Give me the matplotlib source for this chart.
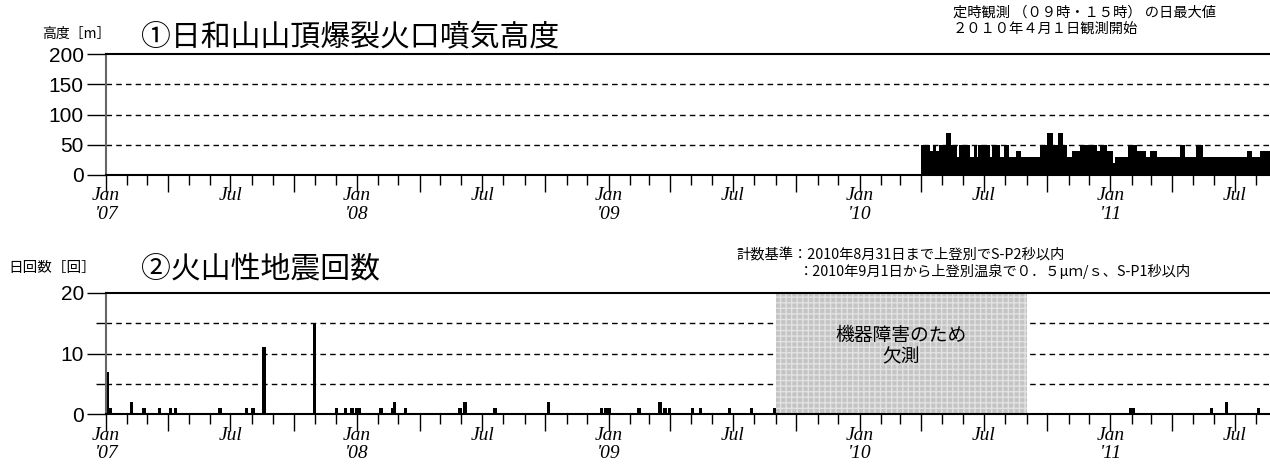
import datetime as dt
import matplotlib
matplotlib.use("Agg")
import matplotlib.pyplot as plt
import matplotlib.dates as mdates
from matplotlib.ticker import FuncFormatter, MultipleLocator

# 噴気高度: 2010/4/1 から、区間の開始日と日最大値 [m]
plume_start = ["2010-04-01", "2010-04-13", "2010-04-18", "2010-04-22", "2010-04-26",
               "2010-05-07", "2010-05-14", "2010-05-23", "2010-05-25", "2010-06-11",
               "2010-06-16", "2010-06-21", "2010-06-23", "2010-07-10", "2010-07-13",
               "2010-07-25", "2010-07-30", "2010-08-06", "2010-08-17", "2010-08-24",
               "2010-09-20", "2010-09-30", "2010-10-09", "2010-10-16", "2010-10-24",
               "2010-10-30", "2010-11-06", "2010-11-18", "2010-12-12", "2010-12-17",
               "2010-12-27", "2011-01-05", "2011-01-07", "2011-01-27", "2011-02-08",
               "2011-02-22", "2011-02-27", "2011-03-09", "2011-04-12", "2011-04-19",
               "2011-05-06", "2011-05-15", "2011-07-18", "2011-07-26", "2011-08-06"]
plume_value = [50, 40, 50, 40, 50,
               70, 50, 30, 50, 30,
               50, 30, 50, 30, 50,
               30, 50, 30, 40, 30,
               50, 70, 50, 70, 50,
               30, 40, 50, 40, 50,
               40, 20, 30, 50, 40,
               30, 40, 30, 50, 30,
               50, 30, 40, 30, 40]
plume_end = "2011-08-21"

# 火山性地震 日回数
eq_dates = ["2007-01-03", "2007-01-07", "2007-02-07", "2007-02-25", "2007-03-20",
            "2007-04-05", "2007-04-12", "2007-06-16", "2007-07-24", "2007-08-03",
            "2007-08-19", "2007-10-31", "2007-12-02", "2007-12-15", "2007-12-25",
            "2008-01-01", "2008-01-05", "2008-02-05", "2008-02-22", "2008-02-25",
            "2008-03-12", "2008-05-30", "2008-06-06", "2008-07-20", "2008-10-06",
            "2008-12-22", "2008-12-28", "2009-01-02", "2009-02-14", "2009-03-17",
            "2009-03-24", "2009-03-31", "2009-05-03", "2009-05-15", "2009-06-26",
            "2009-07-28", "2009-08-30", "2011-01-30", "2011-02-03", "2011-05-28",
            "2011-06-19", "2011-08-04"]
eq_counts = [7, 1, 2, 1, 1,
             1, 1, 1, 1, 1,
             11, 15, 1, 1, 1,
             1, 1, 1, 1, 2,
             1, 1, 2, 1, 2,
             1, 1, 1, 1, 2,
             1, 1, 1, 1, 1,
             1, 1, 1, 1, 1,
             2, 1]

missing = ("2009-09-01", "2010-09-01")
xmin, xmax = "2007-01-01", "2011-08-21"

jp = ["Noto Sans CJK JP", "DejaVu Sans"]


def d(s):
    return dt.datetime.strptime(s, "%Y-%m-%d")


def xfmt(x, pos):
    t = mdates.num2date(x)
    if t.month == 1:
        return "Jan\n'%02d" % (t.year % 100)
    if t.month == 7:
        return "Jul"
    return ""


def style(ax, ymax, step, minor=None):
    ax.set_xlim(d(xmin), d(xmax))
    ax.set_ylim(0, ymax)
    ax.spines["right"].set_visible(False)
    ax.spines["top"].set_linewidth(1.5)
    ax.spines["bottom"].set_linewidth(1.5)
    ax.spines["left"].set_color("#666666")
    ax.spines["left"].set_linewidth(1.5)
    ax.xaxis.set_major_locator(mdates.MonthLocator(bymonth=(1, 4, 7, 10)))
    ax.xaxis.set_minor_locator(mdates.MonthLocator())
    ax.xaxis.set_major_formatter(FuncFormatter(xfmt))
    ax.yaxis.set_major_locator(MultipleLocator(step))
    if minor:
        ax.yaxis.set_minor_locator(MultipleLocator(minor))
    ax.tick_params(axis="x", which="major", length=12, width=1, pad=-3)
    ax.tick_params(axis="x", which="minor", length=7, width=1)
    ax.tick_params(axis="y", which="major", length=14, width=1, pad=2)
    ax.tick_params(axis="y", which="minor", length=7, width=1)
    for lab in ax.get_xticklabels():
        lab.set_family("Liberation Serif")
        lab.set_style("italic")
        lab.set_fontsize(14)
        lab.set_linespacing(1.15)
    for lab in ax.get_yticklabels():
        lab.set_family("Liberation Sans")
        lab.set_fontsize(15)
    grid = [v for v in range(0, ymax + 1, minor or step)][1:-1]
    for v in grid:
        ax.axhline(v, color="black", lw=1, ls=(0, (4, 3)), zorder=0)


fig = plt.figure(figsize=(12.7, 4.68), dpi=100)
ax1 = fig.add_axes([106 / 1270, 1 - 175 / 468, 1 - 106 / 1270, 121 / 468])
ax2 = fig.add_axes([106 / 1270, 1 - 414 / 468, 1 - 106 / 1270, 121 / 468])

# ① 噴気高度
edges = mdates.date2num([d(s) for s in plume_start] + [d(plume_end)])
ax1.stairs(plume_value, edges, fill=True, color="black", zorder=2)
style(ax1, 200, 50)

# ② 地震回数
ax2.bar([d(s) for s in eq_dates], eq_counts, width=5, color="black", zorder=2)
ax2.axvspan(d(missing[0]), d(missing[1]), facecolor="#c4c4c4", edgecolor="#e2e2e2",
            hatch="+++", lw=0, zorder=1)
xc = d(missing[0]) + (d(missing[1]) - d(missing[0])) / 2
ax2.text(xc, 11.2, "機器障害のため\n欠測", ha="center", va="center", fontsize=13.5,
         family=jp, linespacing=1.0, zorder=3)
style(ax2, 20, 10, 5)


def ftext(x, y, s, **kw):
    fig.text(x / 1270, 1 - y / 468, s, family=jp, va="center", **kw)


ftext(42, 34, "高度［m］", fontsize=10)
ftext(141, 37, "①日和山山頂爆裂火口噴気高度", fontsize=21.5)
ftext(953, 13, "定時観測 （０９時・１５時） の日最大値", fontsize=10.3)
ftext(953, 29, "２０１０年４月１日観測開始", fontsize=10.3)

ftext(8, 268, "日回数［回］", fontsize=10.5)
ftext(141, 270, "②火山性地震回数", fontsize=21.5)
ftext(736, 255, "計数基準：2010年8月31日まで上登別でS-P2秒以内", fontsize=10.3)
ftext(799, 271, "：2010年9月1日から上登別温泉で０．５μｍ/ｓ、S-P1秒以内", fontsize=10.3)

fig.savefig("out.png", dpi=100)
